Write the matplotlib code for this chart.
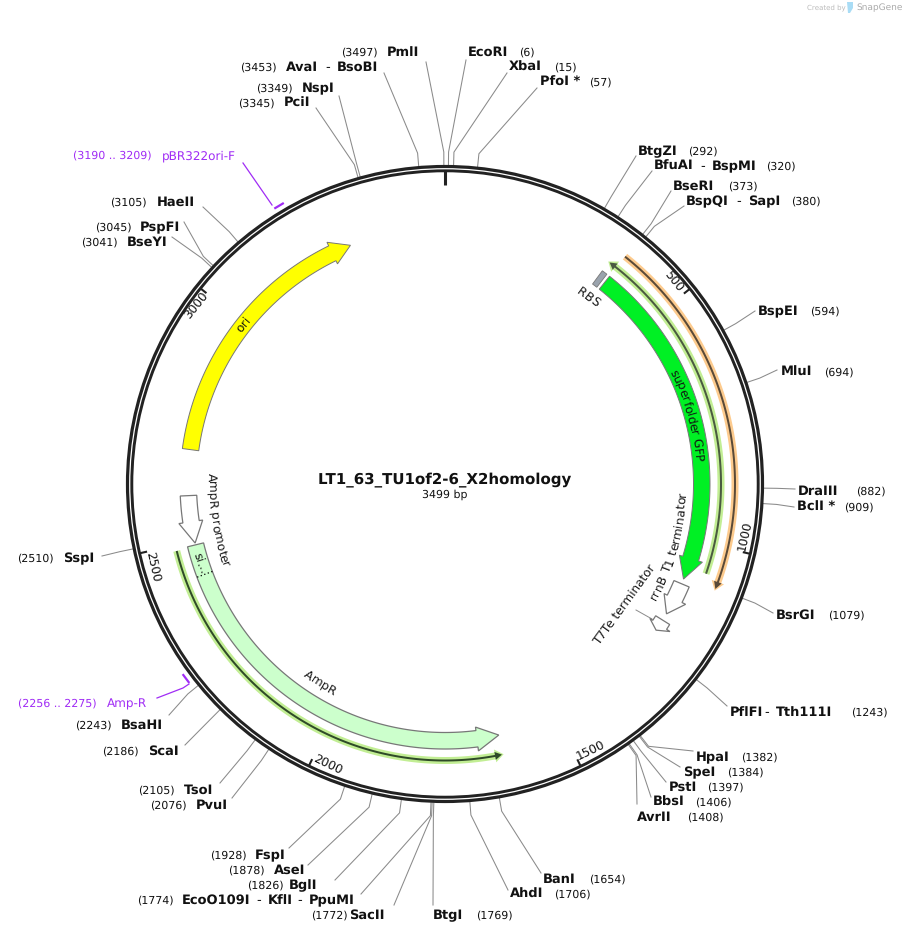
import numpy as np
import matplotlib
matplotlib.use('Agg')
import matplotlib.pyplot as plt
from matplotlib.patches import Circle, Polygon
from matplotlib.font_manager import FontProperties, findfont, get_font
from matplotlib.ft2font import LoadFlags

plt.rcParams['text.hinting'] = 'no_hinting'
plt.rcParams['text.hinting_factor'] = 1

# plasmid
plasmid_name = "LT1_63_TU1of2-6_X2homology"
plasmid_len = 3499
tick_pos = [500, 1000, 1500, 2000, 2500, 3000]

# enzyme sites, "|" separates isoschizomers sharing one label
site_names = ["EcoRI", "XbaI", "PfoI *", "BtgZI", "BfuAI|BspMI", "BseRI", "BspQI|SapI", "BspEI",
              "MluI", "DraIII", "BclI *", "BsrGI", "PflFI|Tth111I", "HpaI", "SpeI", "PstI",
              "BbsI", "AvrII", "BanI", "AhdI", "BtgI", "SacII", "EcoO109I|KflI|PpuMI", "BglI",
              "AseI", "FspI", "PvuI", "TsoI", "ScaI", "BsaHI", "SspI", "BseYI",
              "PspFI", "HaeII", "PciI", "NspI", "AvaI|BsoBI", "PmlI"]
site_pos = [6, 15, 57, 292, 320, 373, 380, 594,
            694, 882, 909, 1079, 1243, 1382, 1384, 1397,
            1406, 1408, 1654, 1706, 1769, 1772, 1774, 1826,
            1878, 1928, 2076, 2105, 2186, 2243, 2510, 3041,
            3045, 3105, 3345, 3349, 3453, 3497]

# features in bp: start, head base, tip
gfp = (373, 1039, 1086)
rbs = (354, 366)
t1_term = (1097, 1133, 1170)
t7_term = (1186, 1198, 1212)
ampr = (2491, 1680, 1632)
ampr_signal_end = 2424
ampr_prom = (2599, 2542, 2495)
ori = (2699, 3246, 3289)

# primer-like annotations
gfp_line = (1059, 356)
orange_line = (373, 1081)
ampr_line = (2488, 1634)
primer_names = ["pBR322ori-F", "Amp-R"]
primer_start = [3190, 2256]
primer_end = [3209, 2275]

# label layout in pixels, same order as site_names
leader_end = [(466, 60), (507, 73), (537, 88), (636, 156), (652, 171), (671, 191), (684, 206), (755, 311),
              (777, 370), (795, 489), (794, 507), (773, 613), (727, 706), (693, 751), (680, 767), (666, 782),
              (651, 797), (637, 804), (541, 873), (508, 890), (433, 905), (394, 905), (361, 894), (335, 880),
              (308, 865), (289, 848), (232, 798), (220, 783), (185, 745), (169, 715), (102, 556), (172, 237),
              (184, 222), (203, 207), (316, 108), (339, 96), (384, 73), (426, 62)]
label_y = [52, 67, 82, 151, 166, 186, 201, 311,
           372, 491, 507, 615, 712, 757, 772, 787,
           802, 817, 879, 894, 915, 915, 900, 885,
           870, 855, 805, 790, 751, 725, 558, 242,
           227, 202, 103, 88, 67, 52]
num_x = [519, 554, 589, 688, 766, 728, 791, 810,
         824, 856, 844, 828, 851, 741, 727, 707,
         695, 687, 589, 554, 476, 311, 137, 247,
         228, 210, 150, 138, 102, 75, 17, 81,
         95, 110, 238, 256, 240, 341]
name_x = [(468,), (509,), (540,), (638,), (654, 712), (673,), (686, 748), (758,),
          (781,), (798,), (797,), (776,), (730, 776), (696,), (683,), (669,),
          (653,), (637,), (543,), (510,), (433,), (349,), (182, 268, 309), (289,),
          (274,), (255,), (196,), (184,), (148,), (121,), (63,), (127,),
          (140,), (157,), (284,), (302,), (286, 337), (387,)]

cx, cy = 445, 484
R_ELBOW = 332
BODY = (248.5, 265)
HEAD = (245, 269)
EDGE = '#777777'
PURPLE = '#a02cf5'
INK = '#111111'

fig = plt.figure(figsize=(9.04, 9.34), dpi=100)
ax = fig.add_axes([0, 0, 1, 1])
ax.set_xlim(0, 904)
ax.set_ylim(934, 0)
ax.axis('off')


def pt(bp, r):
    a = np.asarray(bp, dtype=float) / plasmid_len * 2 * np.pi
    return cx + r * np.sin(a), cy - r * np.cos(a)


def arc(b0, b1, r):
    n = max(int(abs(b1 - b0) / 4), 2)
    x, y = pt(np.linspace(b0, b1, n), r)
    return list(zip(x, y))


def arrow(start, base, tip, body=BODY, head=HEAD, r_tip=None, **kw):
    if r_tip is None:
        r_tip = (body[0] + body[1]) / 2
    p = arc(start, base, body[1])
    p.append(pt(base, head[1]))
    p.append(pt(tip, r_tip))
    p.append(pt(base, head[0]))
    p += arc(base, start, body[0])
    ax.add_patch(Polygon(p, closed=True, **kw))


def curved(s, bp_mid, r, size, top=True):
    # one text per glyph so it follows the arc, pen position from the font advances
    font = get_font(findfont(FontProperties(family='DejaVu Sans')))
    font.set_size(size, fig.dpi)
    adv = [font.load_char(ord(c), flags=LoadFlags.NO_HINTING).linearHoriAdvance / 65536 for c in s]
    rb = r - size * 0.5 if top else r + size * 0.5
    sign = 1 if top else -1
    pen = -sum(adv) / 2
    for ch, a in zip(s, adv):
        bp = bp_mid + sign * (pen + a / 2) / r / (2 * np.pi) * plasmid_len
        x, y = pt(bp, rb)
        deg = bp / plasmid_len * 360
        rot = -deg if top else 180 - deg
        x -= a / 2 * np.cos(np.radians(rot))
        y += a / 2 * np.sin(np.radians(rot))
        ax.text(x, y, ch, fontsize=size, rotation=rot, rotation_mode='anchor',
                ha='left', va='baseline', color=INK, zorder=7)
        pen += a


def primer_line(b0, b1, r, halo, dark):
    step = 14 if b1 > b0 else -14
    arrow(b0, b1 - step, b1 + step * 0.25, body=(r - 3.5, r + 3.5), head=(r - 6.5, r + 6.5), r_tip=r,
          facecolor=halo, edgecolor='none', zorder=2)
    arrow(b0, b1 - step, b1, body=(r - 1, r + 1), head=(r - 4, r + 4), r_tip=r,
          facecolor=dark, edgecolor='none', zorder=3)


# enzyme leaders and labels
for name, bp, end, y, nx, xs in zip(site_names, site_pos, leader_end, label_y, num_x, name_x):
    p0 = pt(bp, 319)
    p1 = pt(bp, R_ELBOW)
    ax.plot([p0[0], p1[0], end[0]], [p0[1], p1[1], end[1]], color='#8a8a8a', lw=0.75, zorder=1)
    ax.text(nx, y + 4, "(%d)" % bp, fontsize=8.2, color=INK, va='baseline')
    for i, (part, x) in enumerate(zip(name.split('|'), xs)):
        ax.text(x, y + 4, part, fontsize=9.3, fontweight='bold', color=INK, va='baseline')
        if i:
            ax.text(x - 9, y + 4, '-', fontsize=9.3, color=INK, va='baseline', ha='center')

# backbone
ax.add_patch(Circle((cx, cy), 317.5, fill=False, ec='#222222', lw=2.3, zorder=5))
ax.add_patch(Circle((cx, cy), 313.2, fill=False, ec='#222222', lw=2.1, zorder=5))
x0, y0 = pt(0, 299)
x1, y1 = pt(0, 313)
ax.plot([x0, x1], [y0, y1], color='#222222', lw=2.2, solid_capstyle='butt', zorder=5)
for bp in tick_pos:
    x0, y0 = pt(bp, 305.5)
    x1, y1 = pt(bp, 313)
    ax.plot([x0, x1], [y0, y1], color='#222222', lw=1.5, solid_capstyle='butt', zorder=5)
    deg = bp / plasmid_len * 360
    rot = (180 - deg) if 90 < deg < 270 else -deg
    lx, ly = pt(bp - 3 / 360 * plasmid_len, 305)
    ax.text(lx, ly, str(bp), fontsize=8.3, rotation=rot, rotation_mode='anchor',
            ha='center', va='center', color=INK)

# features
arrow(*gfp, facecolor='#00f024', edgecolor=EDGE, lw=0.7, zorder=4)
arrow(*ampr, facecolor='#ccffcc', edgecolor=EDGE, lw=0.9, zorder=4)
arrow(*ori, facecolor='#ffff00', edgecolor=EDGE, lw=0.7, zorder=4)
arrow(*ampr_prom, facecolor='white', edgecolor=EDGE, lw=0.9, zorder=4)
arrow(*t1_term, facecolor='white', edgecolor=EDGE, lw=0.9, zorder=4)
arrow(*t7_term, facecolor='white', edgecolor=EDGE, lw=0.9, zorder=4)
p = arc(rbs[0], rbs[1], BODY[1]) + arc(rbs[1], rbs[0], BODY[0])
ax.add_patch(Polygon(p, closed=True, facecolor='#9aa3ad', edgecolor=EDGE, lw=0.6, zorder=4))
x0, y0 = pt(ampr_signal_end, BODY[0])
x1, y1 = pt(ampr_signal_end, BODY[1])
ax.plot([x0, x1], [y0, y1], color='black', lw=0.9, ls=(0, (1, 2)), zorder=5)

primer_line(gfp_line[0], gfp_line[1], 276, '#c2ee94', '#4a5a40')
primer_line(orange_line[0], orange_line[1], 290, '#fdcb8e', '#5a4a38')
primer_line(ampr_line[0], ampr_line[1], 276.5, '#c2ee94', '#2f4a28')

# feature labels
curved("superfolder GFP", 722, 255, 8.5, top=True)
curved("AmpR promoter", 2537, 233, 8.5, top=False)
curved("rrnB T1 terminator", 1025, 237, 8.5, top=False)
curved("AmpR", 2062, 235, 8.5, top=False)
curved("ori", 2997, 258, 8.5, top=True)
curved("RBS", 364, 236, 8.5, top=True)
curved("si...", 2450, 257, 8.5, top=False)
ax.text(625, 605, "T7Te terminator", fontsize=8.5, rotation=54, rotation_mode='anchor',
        ha='center', va='center', color=INK)
ax.plot([636, 652], [610, 619], color='#8a8a8a', lw=0.7, zorder=1)

# primers
primer_label_x = [(73, 162), (18, 107)]
primer_label_y = [155, 703]
primer_leader = [[(272, 205), (243, 163)], [(189, 684), (183, 688), (157, 698)]]
for i in range(2):
    x0, y0 = pt(primer_start[i], 324)
    x1, y1 = pt(primer_end[i], 324)
    ax.plot([x0, x1], [y0, y1], color=PURPLE, lw=1.6, solid_capstyle='butt', zorder=5)
    ax.plot(*zip(*primer_leader[i]), color=PURPLE, lw=0.9, zorder=5)
    ax.text(primer_label_x[i][0], primer_label_y[i] + 4, "(%d .. %d)" % (primer_start[i], primer_end[i]),
            fontsize=8.2, color=PURPLE, va='baseline')
    ax.text(primer_label_x[i][1], primer_label_y[i] + 4, primer_names[i],
            fontsize=8.7, color=PURPLE, va='baseline')

# centre
ax.text(cx, 480, plasmid_name, fontsize=10.48, fontweight='bold', ha='center', va='center', color=INK)
ax.text(cx, 495, "%d bp" % plasmid_len, fontsize=8.2, ha='center', va='center', color=INK)

# watermark
ax.text(807, 8, "Created by", fontsize=5.2, color='#bbbbbb', va='center')
ax.add_patch(Polygon([(847, 2), (853, 2), (853, 8), (850, 13), (848, 13)], closed=True,
                     facecolor='#a9dcf5', edgecolor='none'))
ax.text(856, 8, "SnapGene", fontsize=6.6, color='#aaaaaa', va='center')

fig.savefig('out.png', dpi=100)
